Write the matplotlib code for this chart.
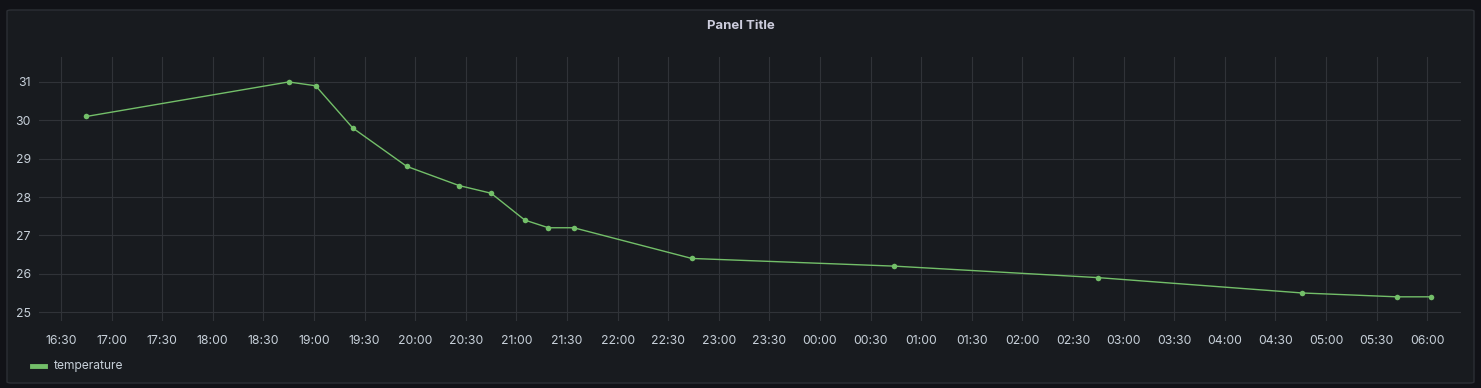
import matplotlib
matplotlib.use("Agg")
from matplotlib import pyplot as plt
from matplotlib.patches import FancyBboxPatch
import matplotlib.dates as mdates
import numpy as np
from datetime import datetime

# data
times = ["16:45", "18:45", "19:01", "19:23", "19:55", "20:26", "20:45", "21:05",
         "21:19", "21:34", "22:44", "00:44", "02:45", "04:46", "05:42", "06:02"]
temperature = [30.1, 31.0, 30.9, 29.8, 28.8, 28.3, 28.1, 27.4,
               27.2, 27.2, 26.4, 26.2, 25.9, 25.5, 25.4, 25.4]
y_ticks = [25, 26, 27, 28, 29, 30, 31]

def to_dt(s):
    h, m = map(int, s.split(":"))
    day = 1 if h >= 12 else 2
    return datetime(2023, 1, day, h, m)

x = [to_dt(t) for t in times]

plt.rcParams['font.family'] = ['Inter', 'DejaVu Sans']

fig = plt.figure(figsize=(14.81, 3.88), dpi=100)
fig.patch.set_facecolor('#111217')

# panel background
panel = FancyBboxPatch((7 / 1481, 5 / 388), 1467 / 1481, 373 / 388,
                       boxstyle="round,pad=0,rounding_size=0.003",
                       transform=fig.transFigure, facecolor='#181b1f',
                       edgecolor='#2c2f35', linewidth=1, zorder=-1)
fig.patches.append(panel)

ax = fig.add_axes([39 / 1481, 1 - 321 / 388, 1422 / 1481, 264 / 388])
ax.set_facecolor('none')
ax.set_zorder(2)

ax.plot(x, temperature, color='#73bf69', linewidth=1, marker='o',
        markersize=4, markeredgewidth=0, zorder=3)

ax.set_xlim(datetime(2023, 1, 1, 16, 17), datetime(2023, 1, 2, 6, 20))
ax.set_ylim(24.77, 31.65)
ax.set_yticks(y_ticks)
ax.xaxis.set_major_locator(mdates.MinuteLocator(byminute=[0, 30]))
ax.xaxis.set_major_formatter(mdates.DateFormatter('%H:%M'))

ax.grid(True, color='#303338', linewidth=0.8)
for s in ax.spines.values():
    s.set_visible(False)
ax.tick_params(axis='both', length=0, colors='#c7d0d9', labelsize=8.8)
ax.tick_params(axis='x', pad=10)
ax.tick_params(axis='y', pad=6)

fig.text(741 / 1481, 1 - 26 / 388, 'Panel Title', ha='center', va='center',
         color='#ccccdc', fontsize=9.5, fontweight='bold')

# legend
fig.add_artist(plt.Line2D([32 / 1481, 45 / 1481], [1 - 366 / 388, 1 - 366 / 388],
                          color='#73bf69', linewidth=3.5, transform=fig.transFigure))
fig.text(54 / 1481, 1 - 366 / 388, 'temperature', ha='left', va='center',
         color='#c7d0d9', fontsize=8.7)

fig.savefig('out.png', dpi=100, facecolor=fig.get_facecolor())
